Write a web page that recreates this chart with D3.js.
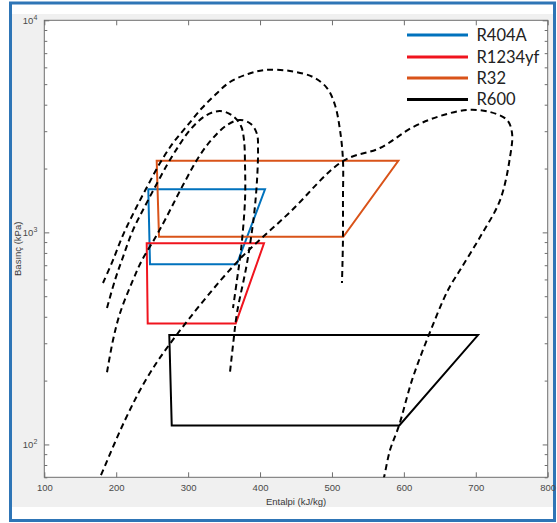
<!DOCTYPE html>
<html><head><meta charset="utf-8">
<script src="https://cdn.jsdelivr.net/npm/d3@7"></script>
<style>body{margin:0;background:#fff}svg{display:block}</style>
</head><body>
<script>
// ---- data (h in kJ/kg, p in kPa) ----
const refrigerants = ["R404A", "R1234yf", "R32", "R600"];
const seriesColors = ["#0072BD", "#F0141E", "#D95319", "#000000"];

// refrigeration cycles (closed polygons)
const cycleR404A   = [[244.6,1595],[406.9,1595],[367.6,707],[247.0,707]];
const cycleR1234yf = [[242.4,888],[405.5,888],[366.2,372],[243.8,372]];
const cycleR32     = [[256.3,2177],[592.3,2177],[515.8,954],[259.5,954]];
const cycleR600    = [[273.8,328],[703.1,328],[593.7,123],[277.2,123]];

// saturation domes (dashed)
const domeR32 = [[181.6,577],[195.5,740],[209.4,971],[226.1,1274],[242.8,1636],[260.9,2123],[279.0,2638],[298.4,3173],[319.3,3858],[337.4,4443],[358.2,5117],[383.3,5583],[406.9,5830],[441.7,5767],[473.6,5403],[493.1,4794],[504.2,3985],[511.2,3037],[515.3,2193],[515.3,1420],[515.3,920],[513.9,577]];
const domeR404A = [[187.2,440],[198.3,596],[209.4,765],[223.3,1025],[238.6,1302],[254.0,1636],[270.6,2078],[285.9,2526],[302.6,3037],[323.5,3537],[344.3,3735],[362.4,3537],[373.5,3173],[377.7,2726],[379.1,2078],[379.1,1420],[373.5,825],[367.9,596],[362.4,440]];
const domeR1234yf = [[187.2,219],[195.5,310],[205.3,416],[223.3,596],[235.9,740],[254.0,940],[269.2,1168],[292.9,1672],[316.5,2316],[334.6,2785],[354.1,3208],[372.1,3388],[387.4,3243],[395.8,2908],[397.2,2445],[395.8,1765],[391.6,1207],[381.9,717],[367.9,416],[362.4,294],[358.2,219]];
const domeR600 = [[173.3,65],[177.6,70.1],[212.2,130.2],[242.8,206],[281.7,321],[367.9,724],[441.7,1246],[515.3,2170],[566.8,2499],[612.7,3138],[650.3,3537],[687.9,3776],[719.8,3694],[743.5,3388],[750.4,2940],[747.6,2266],[733.8,1420],[706.0,951],[678.1,664],[661.4,535],[633.6,321],[611.3,201],[593.3,123],[580.7,94],[572.4,70.1],[569.6,65]];

const xTicks = [100,200,300,400,500,600,700,800];
const yMajorTicks = [100,1000,10000];
const yMinorTicks = [70,80,90,200,300,400,500,600,700,800,900,2000,3000,4000,5000,6000,7000,8000,9000];
const xLabel = "Entalpi (kJ/kg)";
const yLabel = "Basınç (kPa)";

// ---- drawing ----
const W = 557, H = 523;
const svg = d3.select("body").append("svg").attr("width", W).attr("height", H);

svg.append("rect").attr("x",0).attr("y",0).attr("width",W).attr("height",H).attr("fill","#fff");
svg.append("rect").attr("x",12).attr("y",14).attr("width",541).attr("height",493).attr("fill","#f0f0f0");
svg.append("rect").attr("x",10.5).attr("y",3).attr("width",544).attr("height",517.5)
  .attr("fill","none").attr("stroke","#2E75B6").attr("stroke-width",3);

const L = 44.3, R = 547.7, T = 20.3, B = 477.3;
const x = d3.scaleLinear().domain([100,800]).range([L,R]);
const y = d3.scaleLog().domain([70,10000]).range([B,T]);

svg.append("rect").attr("x",L).attr("y",T).attr("width",R-L).attr("height",B-T).attr("fill","#fff");

svg.append("clipPath").attr("id","plotclip").append("rect")
  .attr("x",L).attr("y",T).attr("width",R-L).attr("height",B-T);

const axisColor = "#6e6e6e";
const font = "'Liberation Sans', Arial, sans-serif";

// axes
const gxB = svg.append("g").attr("transform",`translate(0,${B})`)
  .call(d3.axisBottom(x).tickValues(xTicks).tickSize(-5).tickPadding(7).tickFormat(d3.format("d")));
const gxT = svg.append("g").attr("transform",`translate(0,${T})`)
  .call(d3.axisTop(x).tickValues(xTicks).tickSize(-5).tickFormat(""));
const gyL = svg.append("g").attr("transform",`translate(${L},0)`)
  .call(d3.axisLeft(y).tickValues(yMajorTicks).tickSize(-5).tickPadding(6).tickFormat(""));
const gyLm = svg.append("g").attr("transform",`translate(${L},0)`)
  .call(d3.axisLeft(y).tickValues(yMinorTicks).tickSize(-3).tickFormat(""));
const gyR = svg.append("g").attr("transform",`translate(${R},0)`)
  .call(d3.axisRight(y).tickValues(yMajorTicks).tickSize(-5).tickFormat(""));
const gyRm = svg.append("g").attr("transform",`translate(${R},0)`)
  .call(d3.axisRight(y).tickValues(yMinorTicks).tickSize(-3).tickFormat(""));

[gxB,gxT,gyL,gyLm,gyR,gyRm].forEach(g=>{
  g.selectAll(".domain").remove();
  g.selectAll(".tick line").attr("stroke",axisColor).attr("stroke-width",1);
  g.selectAll("text").attr("fill","#4a4a4a").attr("font-family",font).attr("font-size",9.5);
});

// y major labels with superscript
gyL.selectAll(".tick").each(function(d){
  const t = d3.select(this).append("text")
    .attr("x",-7).attr("dy","0.32em").attr("text-anchor","end")
    .attr("fill","#4a4a4a").attr("font-family",font).attr("font-size",9.5);
  t.append("tspan").text("10");
  t.append("tspan").attr("font-size",7).attr("dy","-0.55em").text(String(Math.round(Math.log10(d))));
});

// box
svg.append("rect").attr("x",L).attr("y",T).attr("width",R-L).attr("height",B-T)
  .attr("fill","none").attr("stroke",axisColor).attr("stroke-width",1);

// labels
svg.append("text").attr("x",(L+R)/2).attr("y",504.5).attr("text-anchor","middle")
  .attr("fill","#3a3a3a").attr("font-family",font).attr("font-size",9.5).text(xLabel);
svg.append("text").attr("transform",`translate(21,${(T+B)/2}) rotate(-90)`).attr("text-anchor","middle")
  .attr("fill","#3a3a3a").attr("font-family",font).attr("font-size",9.5).text(yLabel);

const plot = svg.append("g").attr("clip-path","url(#plotclip)");

// cycles
const cycles = [cycleR404A, cycleR1234yf, cycleR32, cycleR600];
const polyLine = d3.line().x(d=>x(d[0])).y(d=>y(d[1]));
cycles.forEach((c,i)=>{
  plot.append("path").attr("d", polyLine(c) + "Z")
    .attr("fill","none").attr("stroke",seriesColors[i]).attr("stroke-width",2)
    .attr("stroke-linejoin","miter");
});

// domes
const domes = [domeR404A, domeR1234yf, domeR32, domeR600];
const curve = d3.line().x(d=>x(d[0])).y(d=>y(d[1])).curve(d3.curveCatmullRom.alpha(0.5));
domes.forEach(dm=>{
  plot.append("path").attr("d", curve(dm))
    .attr("fill","none").attr("stroke","#000").attr("stroke-width",2)
    .attr("stroke-dasharray","6,4");
});

// legend
const legY = [35, 57, 78, 99.5];
const leg = svg.append("g");
refrigerants.forEach((name,i)=>{
  leg.append("line").attr("x1",407).attr("x2",468).attr("y1",legY[i]).attr("y2",legY[i])
    .attr("stroke",seriesColors[i]).attr("stroke-width",3);
  leg.append("text").attr("x",476.5).attr("y",legY[i]).attr("dy","0.36em")
    .attr("fill","#222").attr("font-family","Lato, 'Open Sans', sans-serif").attr("font-size",16.5)
    .text(name);
});
</script>
</body></html>
